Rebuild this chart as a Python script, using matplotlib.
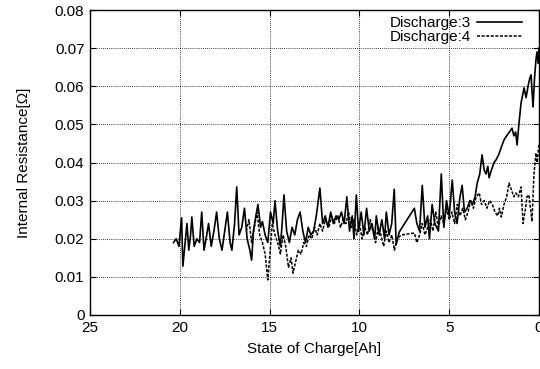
import matplotlib
matplotlib.use("Agg")
import matplotlib.pyplot as plt
import numpy as np

plt.rcParams['font.family'] = ['Liberation Sans', 'DejaVu Sans']

# Discharge:3 (solid)
soc_d3 = [20.35, 20.2, 20.05, 19.9, 19.83, 19.7, 19.6, 19.5, 19.4, 19.33,
          19.2, 19.05, 18.9, 18.78, 18.65, 18.5, 18.4, 18.25, 18.1, 17.95,
          17.8, 17.65, 17.5, 17.35, 17.2, 17.1, 16.95, 16.83, 16.7, 16.55,
          16.4, 16.25, 16.1, 16.0, 15.9, 15.8, 15.65, 15.5, 15.4, 15.25,
          15.1, 14.95, 14.8, 14.7, 14.55, 14.4, 14.3, 14.2, 14.05, 13.9,
          13.75, 13.6, 13.45, 13.3, 13.15, 13.0, 12.85, 12.7, 12.55, 12.4,
          12.2, 12.05, 11.9, 11.75, 11.6, 11.45, 11.3, 11.15, 11.0, 10.85,
          10.7, 10.55, 10.4, 10.3, 10.17, 10.05, 9.9, 9.75, 9.6, 9.45,
          9.3, 9.15, 9.06, 8.9, 8.75, 8.6, 8.5, 8.35, 8.2, 8.06,
          7.95, 7.78, 6.94, 6.8, 6.65, 6.5, 6.35, 6.2, 6.1, 5.95,
          5.8, 5.6, 5.44, 5.3, 5.15, 5.0, 4.83, 4.7, 4.56, 4.4,
          4.28, 4.15, 4.0, 3.85, 3.7, 3.56, 3.44, 3.3, 3.17, 3.05,
          2.95, 2.85, 2.78, 2.65, 2.5, 2.39, 2.25, 2.1, 1.94, 1.8,
          1.65, 1.5, 1.4, 1.3, 1.22, 1.12, 1.0, 0.9, 0.83, 0.72,
          0.61, 0.52, 0.44, 0.38, 0.33, 0.25, 0.17, 0.11, 0.05, 0.0]
res_d3 = [0.019, 0.020, 0.018, 0.0255, 0.0128, 0.019, 0.024, 0.017, 0.021, 0.0257,
          0.018, 0.020, 0.019, 0.027, 0.017, 0.021, 0.024, 0.018, 0.022, 0.027,
          0.020, 0.017, 0.022, 0.027, 0.019, 0.017, 0.024, 0.0336, 0.021, 0.023,
          0.028, 0.020, 0.017, 0.0144, 0.022, 0.025, 0.029, 0.023, 0.0245, 0.021,
          0.019, 0.027, 0.024, 0.030, 0.022, 0.018, 0.024, 0.0315, 0.022, 0.019,
          0.023, 0.021, 0.025, 0.027, 0.022, 0.019, 0.023, 0.021, 0.022, 0.026,
          0.0333, 0.024, 0.026, 0.023, 0.027, 0.024, 0.026, 0.025, 0.027, 0.024,
          0.031, 0.022, 0.026, 0.020, 0.0315, 0.022, 0.027, 0.021, 0.028, 0.022,
          0.024, 0.020, 0.026, 0.021, 0.025, 0.020, 0.027, 0.021, 0.024, 0.033,
          0.0185, 0.0218, 0.028, 0.024, 0.022, 0.034, 0.023, 0.026, 0.020, 0.029,
          0.024, 0.022, 0.037, 0.023, 0.030, 0.026, 0.0354, 0.027, 0.024, 0.031,
          0.034, 0.027, 0.028, 0.030, 0.029, 0.031, 0.0346, 0.037, 0.042, 0.038,
          0.037, 0.039, 0.036, 0.038, 0.040, 0.0407, 0.042, 0.044, 0.046, 0.047,
          0.048, 0.049, 0.047, 0.048, 0.0446, 0.050, 0.0556, 0.058, 0.0596, 0.057,
          0.060, 0.062, 0.063, 0.058, 0.0546, 0.062, 0.067, 0.069, 0.066, 0.070]

# Discharge:4 (dashed)
soc_d4 = [16.3, 16.15, 16.0, 15.85, 15.7, 15.55, 15.4, 15.25, 15.1, 14.95,
          14.85, 14.7, 14.55, 14.4, 14.25, 14.1, 13.95, 13.8, 13.7, 13.55,
          13.4, 13.25, 13.1, 12.95, 12.8, 12.65, 12.5, 12.35, 12.2, 12.05,
          11.9, 11.7, 11.55, 11.4, 11.2, 11.05, 10.9, 10.75, 10.6, 10.45,
          10.3, 10.15, 10.0, 9.85, 9.7, 9.55, 9.4, 9.25, 9.1, 8.95,
          8.8, 8.65, 8.5, 8.35, 8.2, 8.05, 7.9, 7.67, 6.94, 6.8,
          6.65, 6.5, 6.35, 6.2, 6.05, 5.9, 5.75, 5.6, 5.45, 5.3,
          5.15, 5.0, 4.85, 4.7, 4.55, 4.4, 4.25, 4.1, 3.95, 3.8,
          3.65, 3.5, 3.33, 3.2, 3.05, 2.9, 2.75, 2.6, 2.45, 2.3,
          2.2, 2.1, 1.95, 1.8, 1.67, 1.55, 1.4, 1.28, 1.15, 1.0,
          0.89, 0.75, 0.67, 0.56, 0.45, 0.39, 0.28, 0.17, 0.1, 0.0]
res_d4 = [0.022, 0.025, 0.019, 0.023, 0.027, 0.021, 0.019, 0.016, 0.0092, 0.018,
          0.024, 0.021, 0.019, 0.016, 0.021, 0.018, 0.0125, 0.015, 0.011, 0.014,
          0.017, 0.016, 0.019, 0.018, 0.021, 0.020, 0.023, 0.021, 0.024, 0.022,
          0.025, 0.023, 0.026, 0.024, 0.026, 0.023, 0.025, 0.024, 0.027, 0.023,
          0.025, 0.021, 0.024, 0.020, 0.023, 0.021, 0.025, 0.022, 0.019, 0.023,
          0.021, 0.018, 0.022, 0.019, 0.021, 0.017, 0.020, 0.021, 0.0215, 0.019,
          0.021, 0.024, 0.021, 0.023, 0.025, 0.022, 0.027, 0.023, 0.026, 0.024,
          0.028, 0.025, 0.027, 0.024, 0.029, 0.026, 0.028, 0.025, 0.027, 0.030,
          0.028, 0.031, 0.032, 0.029, 0.030, 0.028, 0.030, 0.029, 0.027, 0.026,
          0.028, 0.0257, 0.029, 0.031, 0.0346, 0.033, 0.031, 0.032, 0.031, 0.0336,
          0.024, 0.028, 0.031, 0.0315, 0.027, 0.0245, 0.037, 0.0425, 0.040, 0.045]

x_ticks = [25, 20, 15, 10, 5, 0]
y_ticks = [0, 0.01, 0.02, 0.03, 0.04, 0.05, 0.06, 0.07, 0.08]
y_tick_labels = ['0', '0.01', '0.02', '0.03', '0.04', '0.05', '0.06', '0.07', '0.08']

fig = plt.figure(figsize=(5.4, 3.69), dpi=100)
ax = fig.add_axes([90 / 540, 54 / 369, 449 / 540, 305 / 369])

ax.plot(soc_d3, res_d3, color='black', lw=1.2, label='Discharge:3')
ax.plot(soc_d4, res_d4, color='black', lw=1.1, linestyle=(0, (2, 1)), label='Discharge:4')

ax.set_xlim(25, 0)
ax.set_ylim(0, 0.08)
ax.set_xticks(x_ticks)
ax.set_xticklabels([str(t) for t in x_ticks])
ax.set_yticks(y_ticks)
ax.set_yticklabels(y_tick_labels)
ax.tick_params(direction='in', length=4, labelsize=11, top=True, right=True, pad=4)
ax.grid(True, color='black', linestyle=(0, (1, 1.5)), lw=0.6)
for s in ax.spines.values():
    s.set_linewidth(1.0)

ax.set_xlabel('State of Charge[Ah]', fontsize=11, labelpad=5)
ax.set_ylabel('Internal Resistance[Ω]', fontsize=11, labelpad=17)

leg = ax.legend(loc='upper right', bbox_to_anchor=(0.975, 1.0), frameon=False,
                fontsize=11, handlelength=2.9, markerfirst=False, borderaxespad=0,
                labelspacing=0.0, handletextpad=0.4)

fig.savefig('out.png', dpi=100)
